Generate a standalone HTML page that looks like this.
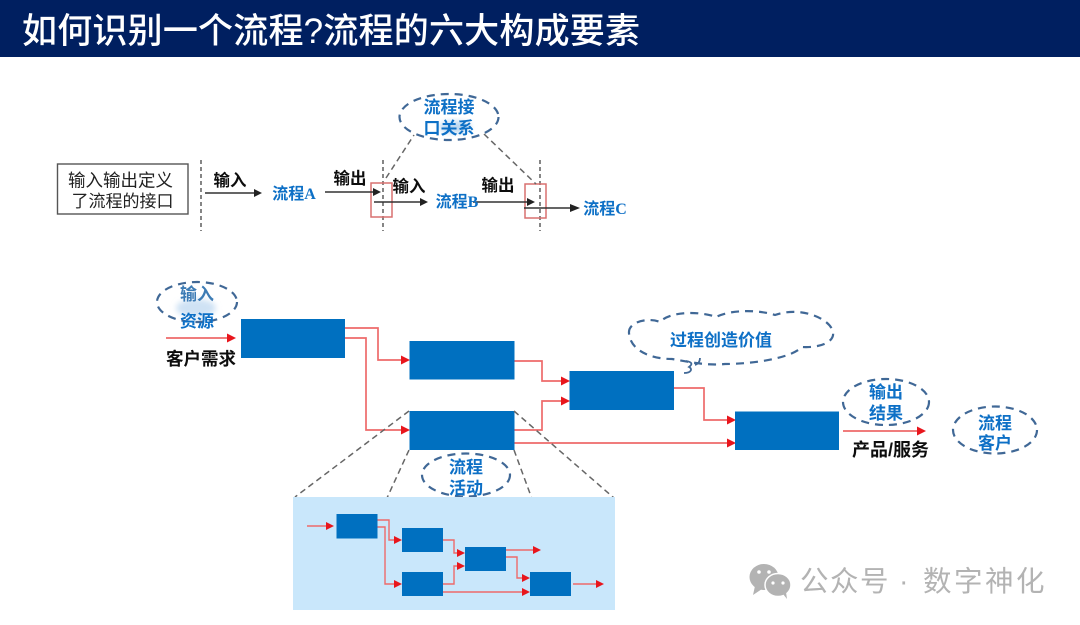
<!DOCTYPE html>
<html lang="zh"><head><meta charset="utf-8"><title>流程的六大构成要素</title>
<style>
html,body{margin:0;padding:0;background:#fff}
svg{display:block}
text{font-family:"Liberation Sans","Noto Sans CJK SC",sans-serif}
.k{font-size:16.5px;font-weight:700;fill:#111;text-anchor:middle}
.b{font-size:17px;font-weight:700;fill:#0f6fc6;text-anchor:middle}
.l{font-family:"Liberation Serif","Noto Sans CJK SC",serif;font-size:16px}
.f{fill:#0070c0}
.r{fill:none;stroke:#ee6a6a;stroke-width:1.7}
.g{fill:none;stroke:#666;stroke-width:1.5;stroke-dasharray:6 4}
.e{fill:none;stroke:#3f6796;stroke-width:2.2;stroke-dasharray:8 6}
.d{stroke:#444;stroke-width:1.3;stroke-dasharray:4 3}
.a{stroke:#333;stroke-width:1.4;fill:none}
</style></head><body>
<svg width="1080" height="625" viewBox="0 0 1080 625" xmlns="http://www.w3.org/2000/svg">
<defs>
<filter id="s" x="-5%" y="-5%" width="110%" height="110%"><feGaussianBlur stdDeviation="0.35"/></filter>
<filter id="m" x="-30%" y="-30%" width="160%" height="160%"><feGaussianBlur stdDeviation="3"/></filter>
</defs>
<rect width="1080" height="625" fill="#fff"/>
<rect width="1080" height="57" fill="#001f60"/>
<text x="22" y="43" font-size="35" fill="#fff" font-weight="500" textLength="618" lengthAdjust="spacing">如何识别一个流程?流程的六大构成要素</text>
<g filter="url(#s)">
<!-- top diagram -->
<rect x="57.5" y="164" width="130.5" height="50" fill="#fff" stroke="#555" stroke-width="1.4"/>
<text x="120.5" y="186.500" font-size="17.5" text-anchor="middle" fill="#222">输入输出定义</text>
<text x="122.500" y="207" font-size="17" text-anchor="middle" fill="#222">了流程的接口</text>
<line class="d" x1="201" y1="160" x2="201" y2="231"/>
<line class="d" x1="383" y1="160" x2="383" y2="231"/>
<line class="d" x1="540" y1="160" x2="540" y2="231"/>
<rect x="371" y="183" width="21" height="34" fill="none" stroke="#d9706f" stroke-width="1.5"/>
<rect x="525" y="184" width="21" height="34" fill="none" stroke="#d9706f" stroke-width="1.5"/>
<path class="a" d="M205 193H256M325 192H376M374 202H424M473 202H530M524 208H572"/>
<path fill="#222" d="M262 193l-8-4v8zM381 192l-8-4v8zM428 202l-8-4v8zM535 202l-8-4v8zM580 208l-10-4v8z"/>
<text class="k" x="230" y="186">输入</text>
<text class="k" x="350" y="184">输出</text>
<text class="k" x="409" y="192">输入</text>
<text class="k" x="498" y="191">输出</text>
<text class="b l" x="294" y="199">流程A</text>
<text class="b l" x="457" y="207">流程B</text>
<text class="b l" x="605" y="214">流程C</text>
<path class="g" d="M386 178L414 135M484 134L536 184"/>
<ellipse class="e" cx="449" cy="117" rx="49.5" ry="23"/>
<ellipse cx="455" cy="127" rx="16" ry="6" fill="#bcd8f0" filter="url(#m)"/>
<text class="b" x="449" y="113">流程接</text>
<text class="b" x="449" y="134">口关系</text>

<!-- main process -->
<g class="r">
<path d="M345 328H378V360H403"/>
<path d="M345 338H366V430H403"/>
<path d="M166 338H229"/>
<path d="M514 361H542V381H563"/>
<path d="M514 430H542V401H563"/>
<path d="M514 443H729"/>
<path d="M674 388H704V420H729"/>
<path d="M843 431H918"/>
</g>
<path fill="#e8141c" d="M236 338l-9-4.500v9zM410 360l-9-4.500v9zM410 430l-9-4.500v9zM570 381l-9-4.500v9zM570 401l-9-4.500v9zM736 420l-9-4.500v9zM736 443l-9-4.500v9zM926 431l-9-4.500v9z"/>
<rect class="f" x="241" y="319" width="104" height="39"/>
<rect class="f" x="409.5" y="341" width="105" height="38.5"/>
<rect class="f" x="409.5" y="411" width="105" height="39"/>
<rect class="f" x="569.5" y="371" width="104.5" height="39"/>
<rect class="f" x="735" y="411.5" width="104" height="38.5"/>
<ellipse class="e" cx="197" cy="302" rx="40" ry="20"/>
<ellipse cx="196" cy="308" rx="20" ry="9" fill="#cfe2f4" filter="url(#m)"/>
<text class="b" x="197" y="300" style="fill:#3d7bb5">输入</text>
<text class="b" x="197" y="327">资源</text>
<text class="k" x="201" y="365" style="font-size:17.5px">客户需求</text>
<path class="e" d="M629 333C628 322 648 317 660 322C670 311 700 311 716 317C732 309 760 310 775 315C800 306 830 318 833 332C835 343 818 348 802 347C790 359 750 364 725 364C705 366 685 361 672 359C650 359 630 350 629 333Z"/>
<path d="M686 361c6 1 7 3 3 6c4 2 2 6-5 6M700 358c0 4-2 6-5 7" fill="none" stroke="#3f6796" stroke-width="1.8"/>
<text class="b" x="721" y="346">过程创造价值</text>
<ellipse class="e" cx="886" cy="402" rx="43" ry="23"/>
<text class="b" x="886" y="398">输出</text>
<text class="b" x="886" y="419">结果</text>
<text class="k" x="890.500" y="456" style="font-size:18px">产品/服务</text>
<ellipse class="e" cx="995" cy="430" rx="42" ry="23.5"/>
<text class="b" x="995" y="429">流程</text>
<text class="b" x="995" y="449">客户</text>

<!-- zoom connectors -->
<path class="g" d="M409 411L295 497M514 411L614 498M409 450L387 498M514 450L532 499"/>
<ellipse class="e" cx="466" cy="475" rx="44" ry="21.5"/>
<rect x="293" y="497" width="322" height="113" fill="#c9e7fb"/>
<text class="b" x="466" y="473">流程</text>
<text class="b" x="466" y="494">活动</text>
<g class="r" style="stroke-width:1.4">
<path d="M307 526H329"/>
<path d="M377 520H389V540H396"/>
<path d="M377 527H385V584H396"/>
<path d="M443 540H454V553H459"/>
<path d="M443 584H454V566H459"/>
<path d="M443 592H523"/>
<path d="M506 550H533"/>
<path d="M506 557H517V578H523"/>
<path d="M573 584H596"/>
</g>
<path fill="#e8141c" d="M334 526l-8-4v8zM402 540l-8-4v8zM402 584l-8-4v8zM465 553l-8-4v8zM465 566l-8-4v8zM530 592l-8-4v8zM541 550l-8-4v8zM530 578l-8-4v8zM604 584l-8-4v8z"/>
<rect class="f" x="336.5" y="514" width="41" height="24.5"/>
<rect class="f" x="402" y="528" width="41" height="24"/>
<rect class="f" x="465" y="547" width="41" height="24"/>
<rect class="f" x="402" y="572" width="41" height="24"/>
<rect class="f" x="530" y="572" width="41" height="24"/>
</g>
<!-- watermark -->
<g fill="#b3b3b3">
<ellipse cx="764" cy="577" rx="14.5" ry="13"/>
<path d="M755 586l-2 9 9-6z"/>
<ellipse cx="778" cy="585" rx="13" ry="11.5" stroke="#fff" stroke-width="1.5"/>
<path d="M783 594l4 5-1-7z"/>
</g>
<g fill="#fff"><circle cx="759" cy="572" r="1.8"/><circle cx="769" cy="572" r="1.8"/><circle cx="773" cy="583" r="1.6"/><circle cx="783" cy="583" r="1.6"/></g>
<g font-size="28.500" fill="#b3b3b3">
<text x="800" y="591">公</text><text x="830" y="591">众</text><text x="860" y="591">号</text>
<text x="899" y="591">·</text>
<text x="923" y="591">数</text><text x="954" y="591">字</text><text x="985" y="591">神</text><text x="1016" y="591">化</text>
</g>
</svg>
</body></html>
